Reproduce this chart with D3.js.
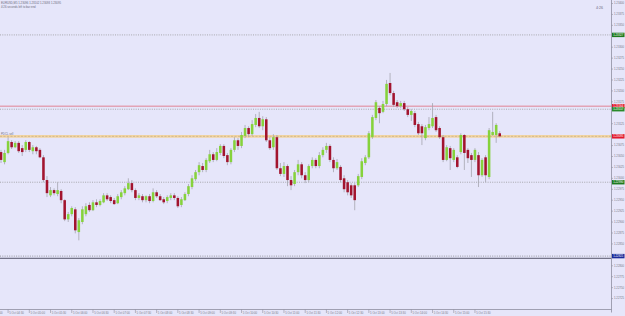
<!DOCTYPE html>
<html>
<head>
<meta charset="utf-8">
<script src="https://cdn.jsdelivr.net/npm/d3@7"></script>
<style>
  body { margin: 0; background: #e6e6fa; }
  svg { display: block; font-family: "Liberation Sans", Arial, sans-serif; }
</style>
</head>
<body>
<div id="chart"></div>
<script>
// chart size
let svgWidth = 625;
let svgHeight = 316;
let plotRight = 611.5;
let plotBottom = 309.5;

// M5 candles
let open = [1.23059,1.23036,1.23057,1.23082,1.23070,1.23080,1.23068,1.23064,1.23082,1.23061,
  1.23070,1.23064,1.23047,1.22995,1.22960,1.22972,1.22963,1.22970,1.22949,1.22905,
  1.22917,1.22928,1.22876,1.22899,1.22917,1.22938,1.22926,1.22944,1.22938,1.22944,
  1.22960,1.22956,1.22949,1.22942,1.22956,1.22965,1.22974,1.22988,1.22972,1.22954,
  1.22958,1.22949,1.22958,1.22947,1.22967,1.22958,1.22951,1.22947,1.22954,1.22960,
  1.22954,1.22938,1.22949,1.22963,1.22979,1.22997,1.23013,1.23027,1.23018,1.23038,
  1.23054,1.23041,1.23057,1.23073,1.23052,1.23036,1.23064,1.23086,1.23073,1.23096,
  1.23114,1.23100,1.23121,1.23137,1.23118,1.23134,1.23086,1.23070,1.23093,1.23022,
  1.23009,1.23027,1.22995,1.22986,1.23013,1.23031,1.23006,1.22995,1.23027,1.23041,
  1.23027,1.23052,1.23064,1.23073,1.23041,1.23022,1.23025,1.22999,1.22990,1.22983,
  1.22983,1.22983,1.23002,1.23034,1.23047,1.23093,1.23137,1.23160,1.23151,1.23169,
  1.23217,1.23194,1.23173,1.23164,1.23171,1.23157,1.23144,1.23148,1.23123,1.23118,
  1.23091,1.23114,1.23118,1.23139,1.23114,1.23093,1.23041,1.23068,1.23041,1.23047,
  1.23059,1.23098,1.23064,1.23052,1.23041,1.23052,1.23006,1.23047,1.23002,1.23098,
  1.23098,1.23102];
let high = [1.23064,1.23064,1.23093,1.23086,1.23084,1.23084,1.23075,1.23086,1.23084,1.23075,
  1.23073,1.23068,1.23052,1.23004,1.22979,1.22976,1.22990,1.22974,1.22951,1.22922,
  1.22935,1.22933,1.22908,1.22935,1.22942,1.22944,1.22949,1.22951,1.22951,1.22965,
  1.22965,1.22960,1.22954,1.22963,1.22972,1.22981,1.22999,1.22995,1.22976,1.22965,
  1.22963,1.22960,1.22963,1.22976,1.22972,1.22963,1.22956,1.22960,1.22965,1.22965,
  1.22958,1.22956,1.22967,1.22986,1.23006,1.23018,1.23036,1.23034,1.23045,1.23064,
  1.23059,1.23068,1.23077,1.23077,1.23057,1.23068,1.23093,1.23091,1.23105,1.23121,
  1.23118,1.23132,1.23146,1.23151,1.23141,1.23139,1.23093,1.23100,1.23098,1.23034,
  1.23036,1.23031,1.23004,1.23018,1.23041,1.23036,1.23013,1.23031,1.23047,1.23045,
  1.23059,1.23070,1.23080,1.23077,1.23047,1.23043,1.23029,1.23006,1.22995,1.22988,
  1.22988,1.23009,1.23045,1.23052,1.23107,1.23144,1.23178,1.23164,1.23176,1.23224,
  1.23240,1.23199,1.23178,1.23176,1.23176,1.23162,1.23157,1.23153,1.23128,1.23123,
  1.23121,1.23139,1.23171,1.23144,1.23118,1.23098,1.23075,1.23073,1.23068,1.23052,
  1.23102,1.23100,1.23068,1.23057,1.23068,1.23059,1.23045,1.23052,1.23114,1.23151,
  1.23125,1.23107];
let low = [1.23034,1.23031,1.23054,1.23066,1.23068,1.23057,1.23050,1.23059,1.23059,1.23054,
  1.23054,1.23045,1.22990,1.22956,1.22956,1.22960,1.22958,1.22942,1.22901,1.22899,
  1.22912,1.22873,1.22857,1.22894,1.22912,1.22922,1.22924,1.22933,1.22935,1.22942,
  1.22947,1.22942,1.22938,1.22940,1.22951,1.22960,1.22972,1.22967,1.22949,1.22949,
  1.22944,1.22944,1.22942,1.22944,1.22954,1.22947,1.22940,1.22942,1.22949,1.22949,
  1.22931,1.22933,1.22947,1.22958,1.22974,1.22993,1.23006,1.23013,1.23013,1.23034,
  1.23036,1.23038,1.23052,1.23045,1.23029,1.23031,1.23059,1.23064,1.23068,1.23091,
  1.23093,1.23096,1.23116,1.23114,1.23109,1.23082,1.23064,1.23064,1.23018,1.23004,
  1.23002,1.22981,1.22972,1.22981,1.23006,1.22999,1.22988,1.22990,1.23022,1.23022,
  1.23022,1.23047,1.23057,1.23036,1.23013,1.23018,1.22990,1.22967,1.22960,1.22954,
  1.22926,1.22979,1.22997,1.23029,1.23043,1.23089,1.23132,1.23125,1.23148,1.23164,
  1.23189,1.23162,1.23160,1.23160,1.23153,1.23139,1.23130,1.23116,1.23098,1.23075,
  1.23086,1.23109,1.23114,1.23105,1.23089,1.23036,1.23038,1.23018,1.23036,1.23022,
  1.23054,1.23018,1.23034,1.23002,1.23036,1.22979,1.23002,1.22990,1.22997,1.23096,
  1.23080,1.23093];
let close = [1.23041,1.23057,1.23084,1.23070,1.23080,1.23061,1.23059,1.23082,1.23064,1.23070,
  1.23061,1.23047,1.22995,1.22965,1.22972,1.22965,1.22972,1.22949,1.22905,1.22917,
  1.22931,1.22880,1.22903,1.22928,1.22935,1.22926,1.22944,1.22938,1.22947,1.22960,
  1.22951,1.22947,1.22940,1.22958,1.22967,1.22976,1.22988,1.22972,1.22954,1.22960,
  1.22949,1.22958,1.22947,1.22967,1.22958,1.22949,1.22944,1.22956,1.22960,1.22954,
  1.22935,1.22951,1.22963,1.22981,1.22999,1.23013,1.23029,1.23018,1.23041,1.23054,
  1.23041,1.23059,1.23073,1.23050,1.23036,1.23064,1.23086,1.23073,1.23098,1.23114,
  1.23100,1.23123,1.23137,1.23118,1.23134,1.23086,1.23068,1.23093,1.23022,1.23009,
  1.23027,1.22995,1.22983,1.23013,1.23031,1.23006,1.22995,1.23027,1.23041,1.23027,
  1.23052,1.23064,1.23073,1.23041,1.23022,1.23036,1.22995,1.22974,1.22967,1.22960,
  1.22949,1.23004,1.23038,1.23047,1.23102,1.23139,1.23173,1.23148,1.23169,1.23215,
  1.23194,1.23167,1.23164,1.23171,1.23157,1.23144,1.23153,1.23121,1.23102,1.23102,
  1.23116,1.23123,1.23137,1.23109,1.23093,1.23041,1.23070,1.23045,1.23064,1.23025,
  1.23098,1.23057,1.23045,1.23041,1.23064,1.23006,1.23041,1.23006,1.23109,1.23105,
  1.23121,1.23095];

// time axis labels (every 6th bar starting at bar 2), plus the one cut off at the left edge
let cutLabel = "5 Oct 04:00";
let timeLabels = ["5 Oct 04:30","5 Oct 05:00","5 Oct 05:30","5 Oct 06:00","5 Oct 06:30","5 Oct 07:00",
  "5 Oct 07:30","5 Oct 08:00","5 Oct 08:30","5 Oct 09:00","5 Oct 09:30","5 Oct 10:00","5 Oct 10:30",
  "5 Oct 11:00","5 Oct 11:30","5 Oct 12:00","5 Oct 12:30","5 Oct 13:00","5 Oct 13:30","5 Oct 14:00",
  "5 Oct 14:30","5 Oct 15:00","5 Oct 15:30"];
let labelBars = timeLabels.map((t, k) => 2 + 6 * k);

// price axis
let priceMin = 1.22700, priceMax = 1.23400, priceStep = 0.00025;
let priceTicks = d3.range(0, 28).map(k => +(priceMax - k * priceStep).toFixed(5));

// horizontal levels
let levelValues = [1.23327, 1.23164, 1.23157, 1.22990, 1.22821, 1.22816];
let bid = 1.23095;
let headerText = "EURUSD,M5  1.23096 1.23102 1.23093 1.23095";
let subText = "4:26 seconds left to bar end";
let countdown = "4:26";
let levelNote = "PDCL sell";

let svg = d3.select("#chart")
  .append("svg")
  .attr("width", svgWidth)
  .attr("height", svgHeight);

svg.append("rect")
  .attr("width", svgWidth)
  .attr("height", svgHeight)
  .attr("fill", "#e6e6fa");

// scales
let bars = d3.range(open.length);
let step = 3.53;
let xScale = d3.scaleBand()
  .domain(bars)
  .range([1.5 - step / 2, 1.5 - step / 2 + step * bars.length])
  .paddingInner(0.28);
let xMid = i => xScale(i) + xScale.bandwidth() / 2;

let yScale = d3.scaleLinear()
  .domain([priceMin, priceMax])
  .range([plotBottom - 0.5, 3]);

let plot = svg.append("g");

// level lines
let levelStyle = [
  { color: "#8c8c8c", dash: "1,1.3", width: 0.7, box: "#1e7a1e" },
  { color: "#e06a78", dash: null, width: 0.8, box: "#e2182c" },
  { color: "#8c8c8c", dash: "1,1.3", width: 0.7, box: "#2a8a2a" },
  { color: "#8c8c8c", dash: "1,1.3", width: 0.7, box: "#1e7a1e" },
  { color: "#7a7a7a", dash: "1,1.3", width: 0.7, box: "#1a2a9a" },
  { color: "#55556a", dash: null, width: 1, box: null }
];
levelValues.forEach(function(v, k) {
  let st = levelStyle[k];
  plot.append("line")
    .attr("x1", 0).attr("x2", plotRight)
    .attr("y1", yScale(v)).attr("y2", yScale(v))
    .attr("stroke", st.color)
    .attr("stroke-width", st.width)
    .attr("stroke-dasharray", st.dash);
});

// bid line (thick tan with dashed core)
plot.append("line")
  .attr("x1", 0).attr("x2", plotRight)
  .attr("y1", yScale(bid)).attr("y2", yScale(bid))
  .attr("stroke", "#f2d5a2").attr("stroke-width", 2.6);
plot.append("line")
  .attr("x1", 0).attr("x2", plotRight)
  .attr("y1", yScale(bid)).attr("y2", yScale(bid))
  .attr("stroke", "#b09a7a").attr("stroke-width", 0.5)
  .attr("stroke-dasharray", "2,1.5");

plot.append("text")
  .attr("x", 1).attr("y", yScale(bid) - 1.8)
  .attr("font-size", 2.8).attr("fill", "#707080")
  .text(levelNote);

// candles
let candles = plot.selectAll("g.candle")
  .data(bars)
  .enter()
  .append("g")
  .attr("class", "candle");

candles.append("line")
  .attr("x1", i => xMid(i)).attr("x2", i => xMid(i))
  .attr("y1", i => yScale(high[i]))
  .attr("y2", i => yScale(low[i]))
  .attr("stroke", "#a4a4ae")
  .attr("stroke-width", 0.8);

candles.append("rect")
  .attr("x", i => xScale(i))
  .attr("width", xScale.bandwidth())
  .attr("y", i => yScale(Math.max(open[i], close[i])))
  .attr("height", i => Math.max(0.8, Math.abs(yScale(open[i]) - yScale(close[i]))))
  .attr("fill", i => close[i] >= open[i] ? "#86d23c" : "#a2142e");

// axes frame
svg.append("line")
  .attr("x1", plotRight).attr("x2", plotRight)
  .attr("y1", 0).attr("y2", plotBottom + 3)
  .attr("stroke", "#8e8ea0").attr("stroke-width", 0.8);
svg.append("line")
  .attr("x1", 0).attr("x2", plotRight)
  .attr("y1", plotBottom).attr("y2", plotBottom)
  .attr("stroke", "#8e8ea0").attr("stroke-width", 0.8);

// price boxes on the axis
let boxes = levelValues.map((v, k) => ({ v: v, color: levelStyle[k].box }))
  .filter(d => d.color);
boxes.push({ v: bid, color: "#e2182c" });

// price axis, labels hidden where a price box sits on top
let freeTicks = priceTicks.filter(t =>
  boxes.every(b => Math.abs(yScale(b.v) - yScale(t)) > 3.2));
let rightAxis = d3.axisRight(yScale)
  .tickValues(freeTicks)
  .tickSize(1.5)
  .tickPadding(1)
  .tickFormat(d3.format(".5f"));
let ra = svg.append("g")
  .attr("transform", `translate(${plotRight}, 0)`)
  .call(rightAxis);
ra.select(".domain").remove();
ra.selectAll("line").attr("stroke", "#8e8ea0").attr("stroke-width", 0.6);
ra.selectAll("text").attr("font-size", 2.8).attr("fill", "#7a7a88")
  .attr("font-family", "Liberation Sans, Arial, sans-serif");

let boxG = svg.selectAll("g.pbox")
  .data(boxes)
  .enter()
  .append("g")
  .attr("class", "pbox")
  .attr("transform", d => `translate(${plotRight + 0.5}, ${yScale(d.v)})`);
boxG.append("rect")
  .attr("x", 0).attr("y", -2.2)
  .attr("width", 12.5).attr("height", 4.4)
  .attr("fill", d => d.color);
boxG.append("text")
  .attr("x", 1.2).attr("y", 1)
  .attr("font-size", 2.8).attr("fill", "#ffffff")
  .text(d => d.v.toFixed(5));

// time axis
let tg = svg.append("g").attr("class", "time");
tg.selectAll("line")
  .data(labelBars)
  .enter()
  .append("line")
  .attr("x1", i => xMid(i)).attr("x2", i => xMid(i))
  .attr("y1", plotBottom).attr("y2", plotBottom + 3.5)
  .attr("stroke", "#8e8ea0").attr("stroke-width", 0.6);
tg.selectAll("text")
  .data(labelBars)
  .enter()
  .append("text")
  .attr("x", i => xMid(i) + 1.2)
  .attr("y", plotBottom + 4)
  .attr("font-size", 2.8).attr("fill", "#7a7a88")
  .text((i, k) => timeLabels[k]);
tg.append("text")
  .attr("x", xMid(labelBars[0]) - 6 * step + 1.2)
  .attr("y", plotBottom + 4)
  .attr("font-size", 2.8).attr("fill", "#7a7a88")
  .text(cutLabel);

// header texts
svg.append("text")
  .attr("x", 1).attr("y", 4)
  .attr("font-size", 2.8).attr("fill", "#6a6a7a")
  .text(headerText);
svg.append("text")
  .attr("x", 1).attr("y", 8)
  .attr("font-size", 2.8).attr("fill", "#6a6a7a")
  .text(subText);
svg.append("text")
  .attr("x", 596).attr("y", 9)
  .attr("font-size", 3.6).attr("fill", "#6a6a7a")
  .text(countdown);
</script>
</body>
</html>
